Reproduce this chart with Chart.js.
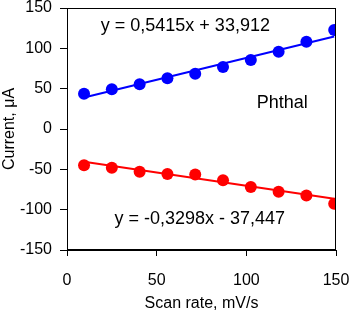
<!DOCTYPE html>
<html lang="en">
<head>
    <meta charset="UTF-8">
    <title>Phthal - Scan rate</title>
    <script src="https://cdn.jsdelivr.net/npm/chart.js"></script>
    <style>
        html, body { margin: 0; padding: 0; background: #fff; }
        #wrap { width: 353px; height: 310px; }
    </style>
</head>
<body>
    <div id="wrap"><canvas id="chart" width="353" height="310"></canvas></div>

    <script>
        // scan rate, mV/s
        const scanRates = [9.5, 25, 40.5, 56, 71.5, 87, 102.5, 118, 133.5, 149];
        // anodic current, uA
        const anodic = [43.8, 49.3, 55.5, 63, 68.6, 76.9, 85.6, 95.9, 108.3, 122.8];
        // cathodic current, uA
        const cathodic = [-45, -48, -53, -55.7, -56.4, -63.6, -72, -77.8, -82.4, -92.8];
        // fitted lines (from the labels on the chart)
        const anodicFit = { slope: 0.5415, intercept: 33.912 };
        const cathodicFit = { slope: -0.3298, intercept: -37.447 };
        const yTicks = [-150, -100, -50, 0, 50, 100, 150];
        const xTicks = [0, 50, 100, 150];

        function fitLine(fit) {
            const x0 = scanRates[0], x1 = scanRates[scanRates.length - 1];
            return [
                { x: x0, y: fit.slope * x0 + fit.intercept },
                { x: x1, y: fit.slope * x1 + fit.intercept }
            ];
        }
        function points(values) {
            return scanRates.map((x, i) => ({ x: x, y: values[i] }));
        }

        const font = "'Liberation Sans', Arial, sans-serif";

        // frame + text labels
        const extras = {
            id: "extras",
            afterDatasetsDraw(chart) {
                const { ctx, chartArea: a, scales } = chart;
                ctx.save();
                ctx.strokeStyle = "#000";
                ctx.lineWidth = 1;
                ctx.strokeRect(a.left + 0.5, a.top + 0.5, a.right - a.left - 1, a.bottom - a.top - 1);
                ctx.fillStyle = "#000";
                ctx.font = "18px " + font;
                ctx.textAlign = "center";
                ctx.textBaseline = "middle";
                const put = (t, x, y) => ctx.fillText(t, scales.x.getPixelForValue(x), scales.y.getPixelForValue(y));
                put("y = 0,5415x + 33,912", 66, 128);
                put("Phthal", 120, 32);
                put("y = -0,3298x - 37,447", 74, -112);
                ctx.restore();
            }
        };

        new Chart(document.getElementById("chart"), {
            type: "scatter",
            data: {
                datasets: [
                    {
                        data: points(anodic),
                        showLine: false,
                        pointRadius: 6,
                        pointBackgroundColor: "#0000ff",
                        pointBorderWidth: 0
                    },
                    {
                        data: fitLine(anodicFit),
                        showLine: true,
                        borderColor: "#0000ff",
                        borderWidth: 2,
                        pointRadius: 0
                    },
                    {
                        data: points(cathodic),
                        showLine: false,
                        pointRadius: 6,
                        pointBackgroundColor: "#ff0000",
                        pointBorderWidth: 0
                    },
                    {
                        data: fitLine(cathodicFit),
                        showLine: true,
                        borderColor: "#ff0000",
                        borderWidth: 2,
                        pointRadius: 0
                    }
                ]
            },
            options: {
                responsive: false,
                animation: false,
                layout: { padding: { top: 8, right: 17, left: 0, bottom: 0 } },
                plugins: {
                    legend: { display: false },
                    tooltip: { enabled: false }
                },
                scales: {
                    x: {
                        min: 0, max: 150,
                        afterFit: s => { s.height = 60; s.paddingLeft = 0; s.paddingRight = 0; },
                        afterBuildTicks: s => { s.ticks = xTicks.map(v => ({ value: v })); },
                        grid: { drawOnChartArea: false, tickLength: 6, color: "#000" },
                        border: { color: "#000" },
                        ticks: { color: "#000", padding: 15, font: { family: font, size: 16 } },
                        title: {
                            display: true, text: "Scan rate, mV/s", color: "#000",
                            font: { family: font, size: 16 }, padding: { bottom: -3 }
                        }
                    },
                    y: {
                        min: -150, max: 150,
                        afterFit: s => { s.width = 67; s.paddingTop = 0; s.paddingBottom = 0; },
                        afterBuildTicks: s => { s.ticks = yTicks.map(v => ({ value: v })); },
                        grid: { drawOnChartArea: false, tickLength: 7, color: "#000" },
                        border: { color: "#000" },
                        ticks: { color: "#000", padding: 8, font: { family: font, size: 16 } },
                        title: {
                            display: true, text: "Current, μA", color: "#000",
                            font: { family: font, size: 16 }, padding: { top: 0 }
                        }
                    }
                }
            },
            plugins: [extras]
        });
    </script>
</body>
</html>
